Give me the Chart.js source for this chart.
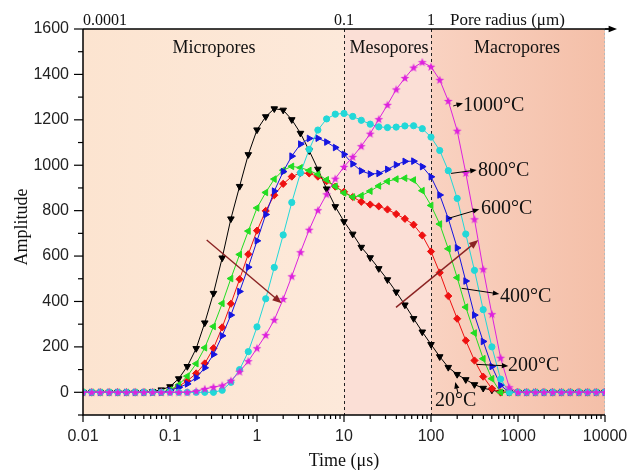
<!DOCTYPE html>
<html lang="en">
<head>
<meta charset="UTF-8">
<title>NMR T2 amplitude vs time</title>
<script src="https://cdn.jsdelivr.net/npm/chart.js"></script>
<style>
  html, body { margin: 0; padding: 0; background: #fff; }
  #wrap { width: 641px; height: 475px; }
</style>
</head>
<body>
<div id="wrap"><canvas id="chart" width="641" height="475"></canvas></div>
<script>
// relaxation time (us), 10 points per decade
var times = [0.01,0.0126,0.0158,0.02,0.0251,0.0316,0.0398,0.0501,0.0631,0.0794,
  0.1,0.126,0.158,0.2,0.251,0.316,0.398,0.501,0.631,0.794,
  1,1.26,1.58,2,2.51,3.16,3.98,5.01,6.31,7.94,
  10,12.6,15.8,20,25.1,31.6,39.8,50.1,63.1,79.4,
  100,126,158,200,251,316,398,501,631,794,
  1000,1259,1585,1995,2512,3162,3981,5012,6310,7943,10000];

var amp20 = [0,0,0,0,0,0,0,0,3,11,
  25,60,114,193,306,436,592,764,907,1047,
  1156,1214,1249,1243,1201,1141,1064,983,896,818,
  752,697,639,593,545,496,442,385,325,266,
  211,157,110,79,56,34,18,10,0,0,
  0,0,0,0,0,0,0,0,0,0,0];
var amp200 = [0,0,0,0,0,0,0,0,0,0,
  8,27,50,83,127,194,286,390,498,608,
  712,799,868,918,950,966,964,950,930,906,
  883,860,839,827,819,805,785,764,738,691,
  620,527,424,324,228,140,69,16,0,0,
  0,0,0,0,0,0,0,0,0,0,0];
var amp400 = [0,0,0,0,0,0,0,0,0,0,
  10,33,71,126,196,290,391,501,607,710,
  812,880,939,978,995,989,977,960,936,907,
  878,860,866,886,909,929,939,943,935,888,
  823,741,632,505,375,261,148,60,0,0,
  0,0,0,0,0,0,0,0,0,0,0];
var amp600 = [0,0,0,0,0,0,0,0,0,0,
  8,21,37,64,108,167,249,340,444,551,
  667,783,886,972,1040,1093,1118,1119,1102,1078,
  1048,1006,975,961,964,982,1002,1017,1018,994,
  949,869,765,636,490,340,224,114,31,0,
  0,0,0,0,0,0,0,0,0,0,0];
var amp800 = [0,0,0,0,0,0,0,0,0,0,
  0,0,0,0,0,0,9,44,100,179,
  288,412,550,693,836,966,1070,1155,1204,1225,
  1228,1215,1198,1181,1169,1166,1168,1173,1174,1161,
  1124,1065,976,854,697,537,364,200,58,0,
  0,0,0,0,0,0,0,0,0,0,0];
var amp1000 = [0,0,0,0,0,0,0,0,0,0,
  0,0,0,5,15,23,30,51,91,137,
  194,252,319,411,511,617,716,802,872,941,
  993,1037,1084,1139,1203,1266,1334,1384,1430,1454,
  1434,1376,1283,1152,966,762,542,344,152,22,
  0,0,0,0,0,0,0,0,0,0,0];

var seriesLabels = ['1000°C','800°C','600°C','400°C','200°C','20°C'];

var xTickValues = [0.01,0.1,1,10,100,1000,10000];
var xTickLabels = ['0.01','0.1','1','10','100','1000','10000'];
var yTickValues = [0,200,400,600,800,1000,1200,1400,1600];
var yMinorValues = [-100,100,300,500,700,900,1100,1300,1500];

// top axis: pore radius (um) at given times
var poreTimes = [0.01,10,100];
var poreLabels = ['0.0001','0.1','1'];

var regionNames = ['Micropores','Mesopores','Macropores'];
var regionBounds = [0.01,10,100,10000];
var regionLabelTimes = [0.32,33,975];

function starImg(color) {
  var c = document.createElement('canvas');
  c.width = 10; c.height = 10;
  var g = c.getContext('2d');
  g.fillStyle = color;
  g.beginPath();
  for (var k = 0; k < 10; k++) {
    var r = k % 2 ? 1.9 : 4.6;
    var ang = -Math.PI / 2 + k * Math.PI / 5;
    g.lineTo(5 + r * Math.cos(ang), 5.3 + r * Math.sin(ang));
  }
  g.closePath();
  g.fill();
  return c;
}

function mk(label, vals, color, style, rot, radius) {
  return {
    label: label,
    data: times.map(function (t, i) { return { x: t, y: vals[i] }; }),
    borderColor: color,
    backgroundColor: color,
    borderWidth: 1,
    pointStyle: style,
    pointRotation: rot,
    pointRadius: radius,
    pointBorderWidth: 1,
    tension: 0
  };
}

function arrow(ctx, x1, y1, x2, y2, color, w, head) {
  var ang = Math.atan2(y2 - y1, x2 - x1);
  ctx.strokeStyle = color; ctx.fillStyle = color; ctx.lineWidth = w;
  ctx.beginPath(); ctx.moveTo(x1, y1);
  ctx.lineTo(x2 - Math.cos(ang) * head * 0.7, y2 - Math.sin(ang) * head * 0.7);
  ctx.stroke();
  ctx.beginPath();
  ctx.moveTo(x2, y2);
  ctx.lineTo(x2 - head * Math.cos(ang - 0.38), y2 - head * Math.sin(ang - 0.38));
  ctx.lineTo(x2 - head * Math.cos(ang + 0.38), y2 - head * Math.sin(ang + 0.38));
  ctx.closePath(); ctx.fill();
}

var decor = {
  id: 'decor',
  beforeDatasetsDraw: function (chart) {
    var ctx = chart.ctx, a = chart.chartArea, xs = chart.scales.x;
    var p = regionBounds.map(function (v) { return xs.getPixelForValue(v); });
    ctx.save();
    var g1 = ctx.createLinearGradient(p[0], 0, p[1], 0);
    g1.addColorStop(0, '#fce4d0'); g1.addColorStop(1, '#fde9da');
    ctx.fillStyle = g1; ctx.fillRect(p[0], a.top, p[1] - p[0], a.bottom - a.top);
    ctx.fillStyle = '#fbdfd6';
    ctx.fillRect(p[1], a.top, p[2] - p[1], a.bottom - a.top);
    var g3 = ctx.createLinearGradient(p[2], 0, p[3], 0);
    g3.addColorStop(0, '#f9d2c1'); g3.addColorStop(1, '#f4bfa8');
    ctx.fillStyle = g3; ctx.fillRect(p[2], a.top, p[3] - p[2], a.bottom - a.top);

    ctx.strokeStyle = '#222'; ctx.lineWidth = 1; ctx.setLineDash([3, 3]);
    [p[1], p[2]].forEach(function (x) {
      ctx.beginPath(); ctx.moveTo(Math.round(x) + 0.5, a.top); ctx.lineTo(Math.round(x) + 0.5, a.bottom); ctx.stroke();
    });
    ctx.strokeStyle = '#b8b8b8'; ctx.setLineDash([2, 2]);
    ctx.beginPath(); ctx.moveTo(a.right - 0.5, a.top); ctx.lineTo(a.right - 0.5, a.bottom); ctx.stroke();
    ctx.restore();
  },
  afterDatasetsDraw: function (chart) {
    var ctx = chart.ctx, a = chart.chartArea, xs = chart.scales.x, ys = chart.scales.y;
    var X = function (v) { return xs.getPixelForValue(v); };
    var Y = function (v) { return ys.getPixelForValue(v); };
    ctx.save();
    // axes
    ctx.strokeStyle = '#000'; ctx.lineWidth = 1.5; ctx.setLineDash([]);
    ctx.beginPath(); ctx.moveTo(a.left, a.top); ctx.lineTo(a.left, a.bottom); ctx.lineTo(a.right, a.bottom); ctx.stroke();
    ctx.lineWidth = 1.2;
    yTickValues.forEach(function (v) { ctx.beginPath(); ctx.moveTo(a.left - 9, Y(v)); ctx.lineTo(a.left, Y(v)); ctx.stroke(); });
    yMinorValues.forEach(function (v) { ctx.beginPath(); ctx.moveTo(a.left - 5, Y(v)); ctx.lineTo(a.left, Y(v)); ctx.stroke(); });
    xTickValues.forEach(function (v) { ctx.beginPath(); ctx.moveTo(X(v), a.bottom); ctx.lineTo(X(v), a.bottom + 7); ctx.stroke(); });
    for (var d = 0; d < xTickValues.length - 1; d++) {
      for (var m = 2; m < 10; m++) {
        var x = X(xTickValues[d] * m);
        ctx.beginPath(); ctx.moveTo(x, a.bottom); ctx.lineTo(x, a.bottom + 4); ctx.stroke();
      }
    }
    // top pore radius axis
    ctx.lineWidth = 1.3;
    ctx.beginPath(); ctx.moveTo(a.left, a.top); ctx.lineTo(a.right + 6, a.top); ctx.stroke();
    arrow(ctx, a.right, a.top, a.right + 12, a.top, '#000', 1.3, 9);

    ctx.fillStyle = '#111';
    ctx.font = '16px "Liberation Serif", "Times New Roman", serif';
    ctx.textBaseline = 'alphabetic';
    ctx.textAlign = 'left';
    ctx.fillText(poreLabels[0], X(poreTimes[0]), a.top - 4);
    ctx.textAlign = 'center';
    ctx.fillText(poreLabels[1], X(poreTimes[1]), a.top - 4);
    ctx.fillText(poreLabels[2], X(poreTimes[2]), a.top - 4);
    ctx.textAlign = 'left';
    ctx.font = '17px "Liberation Serif", "Times New Roman", serif';
    ctx.fillText('Pore radius (μm)', X(165), a.top - 4);

    // region names
    ctx.font = '18px "Liberation Serif", "Times New Roman", serif';
    ctx.textAlign = 'center'; ctx.textBaseline = 'middle';
    regionNames.forEach(function (n, i) { ctx.fillText(n, X(regionLabelTimes[i]), Y(1516)); });

    // axis titles
    ctx.font = '18px "Liberation Serif", "Times New Roman", serif';
    ctx.fillText('Time (μs)', X(10), 461);
    ctx.save();
    ctx.translate(22, (a.top + a.bottom) / 2 + 5);
    ctx.rotate(-Math.PI / 2);
    ctx.fillText('Amplitude', 0, 0);
    ctx.restore();

    // trend arrows
    arrow(ctx, X(0.264), Y(671), X(1.92), Y(392), '#8b2323', 1.4, 10);
    arrow(ctx, X(39.6), Y(374), X(350), Y(671), '#8b2323', 1.4, 10);

    // series labels with pointers
    var tags = [
      [180, 1261, 233, 1273, 233, 1261],
      [170, 964, 335, 979, 347, 975],
      [158, 766, 359, 806, 376, 807],
      [225, 458, 610, 433, 621, 420],
      [335, 123, 774, 116, 767, 116]
    ];
    ctx.font = '20px "Liberation Serif", "Times New Roman", serif';
    ctx.textAlign = 'left'; ctx.textBaseline = 'middle';
    tags.forEach(function (t, i) {
      arrow(ctx, X(t[0]), Y(t[1]), X(t[2]), Y(t[3]), '#000', 1, 7);
      ctx.fillStyle = '#111';
      ctx.fillText(seriesLabels[i], X(t[4]), Y(t[5]));
    });
    arrow(ctx, X(205), Y(-5), X(190), Y(45), '#000', 1, 7);
    ctx.fillStyle = '#111';
    ctx.fillText(seriesLabels[5], X(111), Y(-38));
    ctx.restore();
  }
};

var ctx = document.getElementById('chart').getContext('2d');
var chart = new Chart(ctx, {
  type: 'line',
  data: {
    datasets: [
      mk(seriesLabels[0], amp1000, '#dd22dd', starImg('#dd22dd'), 0, 3.5),
      mk(seriesLabels[1], amp800, '#22d8d8', 'circle', 0, 3.1),
      mk(seriesLabels[2], amp600, '#1515e0', 'triangle', 90, 3.8),
      mk(seriesLabels[3], amp400, '#22dd22', 'triangle', 270, 3.8),
      mk(seriesLabels[4], amp200, '#ee1111', 'rectRot', 0, 3.6),
      mk(seriesLabels[5], amp20, '#000000', 'triangle', 180, 3.8)
    ]
  },
  options: {
    responsive: false,
    animation: false,
    devicePixelRatio: 1,
    layout: { padding: { top: 29, right: 36, left: 0, bottom: 0 } },
    plugins: { legend: { display: false }, tooltip: { enabled: false } },
    scales: {
      x: {
        type: 'logarithmic',
        min: 0.01,
        max: 10000,
        afterBuildTicks: function (s) { s.ticks = xTickValues.map(function (v) { return { value: v }; }); },
        afterFit: function (s) { s.height = 60; },
        grid: { display: false, drawTicks: false },
        border: { display: false },
        ticks: {
          autoSkip: false, maxRotation: 0, padding: 12, color: '#222',
          font: { family: '"Liberation Sans", Arial, sans-serif', size: 16 },
          callback: function (v, i) { return xTickLabels[i]; }
        }
      },
      y: {
        min: -100,
        max: 1600,
        afterBuildTicks: function (s) { s.ticks = yTickValues.map(function (v) { return { value: v }; }); },
        afterFit: function (s) { s.width = 83; },
        grid: { display: false, drawTicks: false },
        border: { display: false },
        ticks: {
          padding: 14, color: '#222',
          font: { family: '"Liberation Sans", Arial, sans-serif', size: 16 },
          callback: function (v) { return String(v); }
        }
      }
    }
  },
  plugins: [decor]
});
</script>
</body>
</html>
